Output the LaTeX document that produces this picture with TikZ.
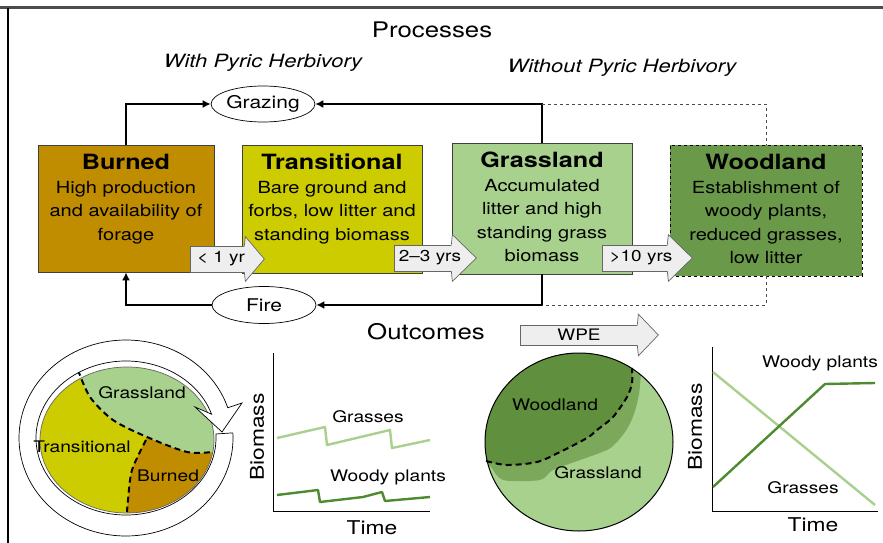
\documentclass[tikz,border=0pt]{standalone}
\usepackage{fontspec}
\setmainfont{TeX Gyre Heros}[FakeStretch=1.2]
\usetikzlibrary{shapes.geometric,arrows.meta}

\definecolor{burnedc}{RGB}{192,141,0}
\definecolor{transc}{RGB}{204,204,0}
\definecolor{grassc}{RGB}{168,209,141}
\definecolor{woodc}{RGB}{106,153,74}
\definecolor{woodline}{RGB}{78,138,48}
\definecolor{midgreen}{RGB}{124,168,92}
\definecolor{darkwood}{RGB}{96,143,62}
\definecolor{arrowfill}{RGB}{238,238,238}

\newcommand\headfont{\fontsize{21.5}{24}\selectfont}
\newcommand\sidefont{\fontsize{18.3}{22}\selectfont\itshape}
\newcommand\titlefont{\fontsize{21}{24}\selectfont\bfseries}
\newcommand\bodyfont{\fontsize{16.7}{23.5}\selectfont}
\newcommand\procfont{\fontsize{17.5}{20}\selectfont}
\newcommand\yrfont{\fontsize{15.8}{18}\selectfont}
\newcommand\labelfont{\fontsize{16}{18}\selectfont}
\newcommand\axisfont{\fontsize{19}{21}\selectfont}

\begin{document}
\begin{tikzpicture}[x=1pt, y=-1pt,
	state/.style={draw=black!75, line width=0.7pt},
	statetxt/.style={anchor=north, align=center, font=\bodyfont, inner sep=0pt, yshift=-9.5pt},
	proc/.style={ellipse, draw, line width=0.7pt, fill=white, font=\procfont, inner sep=0pt},
	flow/.style={line width=2.7pt, -{Latex[length=8pt,width=8pt]}},
	nolink/.style={dashed, draw=black!70, line width=0.7pt},
	years/.style={draw=black!60, fill=arrowfill, line width=0.7pt, inner sep=0pt, minimum height=26pt},
	yrtext/.style={font=\yrfont, inner sep=0pt},
	yrhead/.style={draw=black!60, fill=arrowfill, line width=0.7pt, line join=miter},
	border/.style={line width=2pt, dash pattern=on 6pt off 4pt},
	ring/.style={draw, fill=white, line width=0.7pt},
	axis/.style={line width=1pt},
	trace/.style={line width=2.4pt, line join=round}
]
	\useasboundingbox (0,0) rectangle (883,543);
	\draw[line width=3pt, black!70] (0,8) -- (883,8);
	\draw[line width=1.5pt] (8,8) -- (8,543);

	\node[font=\headfont] (processes) at (432,30) {Processes};
	\node[font=\sidefont] (withph) at (263,63) {With Pyric Herbivory};
	\node[font=\sidefont] (withoutph) at (622,68) {Without Pyric Herbivory};

	\node[state, fill=burnedc, minimum width=176pt, minimum height=127pt] (burned) at (126,208.5) {};
	\node[state, fill=transc, minimum width=180pt, minimum height=128pt] (transitional) at (332,209) {};
	\node[state, fill=grassc, minimum width=180pt, minimum height=131pt] (grassland) at (542,208.5) {};
	\node[state, fill=woodc, dashed, draw=black, minimum width=192pt, minimum height=131pt] (woodland) at (766,210.5) {};

	\node[statetxt] (burnedtxt) at (burned.north) {{\titlefont Burned}\\High production\\and availability of\\forage};
	\node[statetxt] (transitionaltxt) at (transitional.north) {{\titlefont Transitional}\\Bare ground and\\forbs, low litter and\\standing biomass};
	\node[statetxt] (grasslandtxt) at (grassland.north) {{\titlefont Grassland}\\Accumulated\\litter and high\\standing grass\\biomass};
	\node[statetxt] (woodlandtxt) at (woodland.north) {{\titlefont Woodland}\\Establishment of\\woody plants,\\reduced grasses,\\low litter};

	\node[years, minimum width=55pt] (lt1) at (217.5,259) {};
	\draw[yrhead] ([xshift=-1pt]lt1.north east) -- ([yshift=9pt]lt1.north east) -- ([xshift=19pt]lt1.east)
		-- ([yshift=-9pt]lt1.south east) -- ([xshift=-1pt]lt1.south east);
	\node[yrtext] (lt1txt) at ([xshift=3.5pt]lt1.center) {< 1 yr};
	\node[years, minimum width=58pt] (two3) at (423,258) {};
	\draw[yrhead] ([xshift=-1pt]two3.north east) -- ([yshift=10pt]two3.north east) -- ([xshift=24pt]two3.east)
		-- ([yshift=-10pt]two3.south east) -- ([xshift=-1pt]two3.south east);
	\node[yrtext] (two3txt) at ([xshift=7pt]two3.center) {2–3 yrs};
	\node[years, minimum width=66pt] (gt10) at (635,258) {};
	\draw[yrhead] ([xshift=-1pt]gt10.north east) -- ([yshift=10pt]gt10.north east) -- ([xshift=24pt]gt10.east)
		-- ([yshift=-10pt]gt10.south east) -- ([xshift=-1pt]gt10.south east);
	\node[yrtext] (gt10txt) at ([xshift=6pt]gt10.center) {>10 yrs};

	\node[proc, minimum width=100pt, minimum height=36pt] (grazing) at (263,104) {Grazing};
	\node[proc, minimum width=104pt, minimum height=37pt] (fire) at (264,305) {Fire};

	\draw[flow] (burned.north) |- (grazing.west);
	\draw[flow] (grassland.north) |- (grazing.east);
	\draw[nolink] (grassland.north |- grazing.east) -| (woodland.north);
	\draw[flow] (grassland.south) |- (fire.east);
	\draw[flow] (fire.west) -| (burned.south);
	\draw[nolink] (woodland.south) |- (grassland.south |- fire.east);

	\node[font=\headfont] (outcomes) at (426,332) {Outcomes};
	\node[years, minimum width=118pt, minimum height=20pt] (wpe) at (579,335) {};
	\draw[yrhead] ([xshift=-1pt]wpe.north east) -- ([yshift=10.5pt]wpe.north east) -- ([xshift=20pt]wpe.east)
		-- ([yshift=-10.5pt]wpe.south east) -- ([xshift=-1pt]wpe.south east);
	\node[yrtext] (wpetxt) at (wpe.center) {WPE};

	\coordinate (cyc) at (127,440);
	\begin{scope}
		\clip (cyc) ellipse [x radius=87pt, y radius=73pt];
		\fill[transc] (cyc) ellipse [x radius=87pt, y radius=73pt];
		\fill[burnedc] plot[smooth] coordinates {(147,437) (132,470) (128,500) (126,520)} -- (230,520) -- (230,437) -- cycle;
		\fill[grassc] plot[smooth] coordinates {(74,362) (78,372) (90,397) (113,420) (147,437) (187,452) (215,452)} -- (240,452) -- (240,340) -- (70,340) -- cycle;
	\end{scope}
	\draw[black!60, line width=0.7pt] (cyc) ellipse [x radius=87pt, y radius=73pt];
	\draw[border] plot[smooth] coordinates {(78,370) (90,397) (113,420) (147,437) (187,452) (212,452)};
	\draw[border] plot[smooth] coordinates {(146,440) (132,470) (128,500) (127,512)};
	\coordinate (rc) at (126,438);
	\draw[ring] ([shift={(3:107pt and 98pt)}]rc) arc[start angle=3, end angle=-342, x radius=107pt, y radius=98pt]
		-- (242,403) -- (222,432) -- (195,407) -- ([shift={(18:90pt and 77pt)}]rc)
		arc[start angle=18, end angle=363, x radius=90pt, y radius=77pt] -- cycle;
	\node[font=\labelfont] (cycgrass) at (142,393) {Grassland};
	\node[font=\labelfont] (cyctrans) at (82,447) {Transitional};
	\node[font=\labelfont] (cycburned) at (168,476) {Burned};

	\draw[axis] (273,353) -- (273,511) -- (430,511);
	\draw[trace, grassc] (277,438) -- (325,427) -- (327,445) -- (390,430) -- (392,448) -- (430,440);
	\draw[trace, woodline] (277,495) -- (318,490) -- (320,502) -- (363,497) -- (382,492) -- (385,501) -- (430,497);
	\node[font=\labelfont] (pgrass) at (368,417) {Grasses};
	\node[font=\labelfont] (pwood) at (388,477) {Woody plants};
	\node[font=\axisfont, rotate=90] (pbio) at (257,437) {Biomass};
	\node[font=\axisfont] (ptime) at (372,528) {Time};

	\coordinate (wc) at (579,442);
	\begin{scope}
		\clip (wc) ellipse [x radius=94pt, y radius=89pt];
		\fill[grassc] (wc) ellipse [x radius=94pt, y radius=89pt];
		\fill[midgreen] plot[smooth] coordinates {(480,463) (490,466) (503,480) (540,480) (553,470) (583,459) (607,450) (617,442) (627,429) (634,414) (639,394) (641,373)} -- (641,340) -- (480,340) -- cycle;
		\fill[darkwood] plot[smooth] coordinates {(480,462) (488,462) (507,465) (537,462) (560,452) (587,438) (597,430) (613,417) (627,397) (632,383) (632,360)} -- (632,340) -- (470,340) -- cycle;
	\end{scope}
	\draw[border] plot[smooth] coordinates {(486,461) (507,465) (537,462) (560,452) (587,438) (597,430) (613,417) (627,397) (632,383) (632,368)};
	\draw[line width=1pt] (wc) ellipse [x radius=94pt, y radius=89pt];
	\node[font=\labelfont] (wpwood) at (555,405) {Woodland};
	\node[font=\labelfont] (wpgrass) at (598,473) {Grassland};

	\draw[axis] (712,347) -- (712,511) -- (878,511);
	\draw[trace, grassc] (713,372) -- (875,505);
	\draw[trace, woodline] (713,487) -- (825,384) -- (875,383);
	\node[font=\labelfont] (qwood) at (820,363) {Woody plants};
	\node[font=\labelfont] (qgrass) at (803,488) {Grasses};
	\node[font=\axisfont, rotate=90] (qbio) at (695,427) {Biomass};
	\node[font=\axisfont] (qtime) at (813,525) {Time};
\end{tikzpicture}
\end{document}
